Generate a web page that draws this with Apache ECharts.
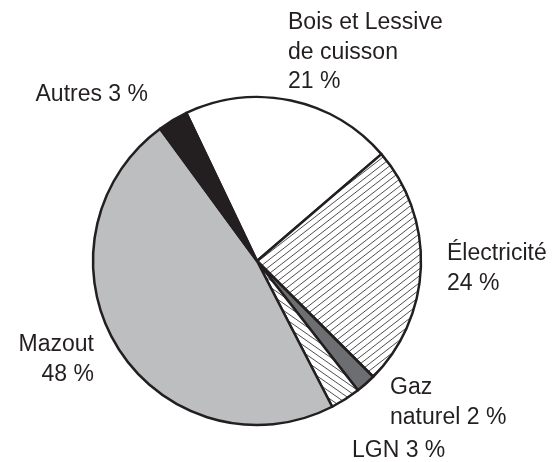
<!DOCTYPE html>
<html>
<head>
<meta charset="utf-8">
<script src="https://cdn.jsdelivr.net/npm/echarts@6/dist/echarts.min.js"></script>
<style>html,body{margin:0;padding:0;background:#fff;}#c{width:553px;height:462px;}</style>
</head>
<body>
<div id="c"></div>
<script>
var categories = ['Bois et Lessive de cuisson', 'Électricité', 'Gaz naturel', 'LGN', 'Mazout', 'Autres'];
var values = [21, 24, 2, 3, 48, 3];
var labelTexts = ['Bois et Lessive\nde cuisson\n21 %', 'Électricité\n24 %', 'Gaz\nnaturel 2 %', 'LGN 3 %', 'Mazout\n48 %', 'Autres 3 %'];

function hatch(w, h, dir) {
  var c = document.createElement('canvas');
  c.width = w; c.height = h;
  var g = c.getContext('2d');
  g.fillStyle = '#fff'; g.fillRect(0, 0, w, h);
  g.strokeStyle = '#3a3a3a'; g.lineWidth = 0.9;
  var offs = [[0,0],[w,0],[-w,0],[0,h],[0,-h]];
  offs.forEach(function (o) {
    g.beginPath();
    if (dir === '/') { g.moveTo(o[0], h + o[1]); g.lineTo(w + o[0], o[1]); }
    else { g.moveTo(o[0], o[1]); g.lineTo(w + o[0], h + o[1]); }
    g.stroke();
  });
  return { image: c, repeat: 'repeat' };
}

var fills = ['#ffffff', hatch(9, 7, '/'), '#6d6e71', hatch(10, 7, '\\'), '#bcbec0', '#231f20'];
var labelPos = [
  { x: 288, y: 8, align: 'left' },
  { x: 447, y: 239, align: 'left' },
  { x: 390, y: 373, align: 'left' },
  { x: 352, y: 436, align: 'left' },
  { x: 94, y: 330, align: 'right' },
  { x: 148, y: 80, align: 'right' }
];

var chart = echarts.init(document.getElementById('c'), null, { renderer: 'canvas' });
chart.setOption({
  animation: false,
  series: [{
    type: 'pie',
    center: [257, 261],
    radius: 164,
    startAngle: 115.5,
    clockwise: true,
    avoidLabelOverlap: false,
    data: categories.map(function (n, i) {
      return { name: n, value: values[i], itemStyle: { color: fills[i] } };
    }),
    itemStyle: { borderColor: '#231f20', borderWidth: 2.5 },
    emphasis: { disabled: true },
    label: {
      show: true,
      position: 'outside',
      formatter: function (p) { return labelTexts[p.dataIndex]; },
      fontFamily: 'Liberation Sans',
      fontSize: 23,
      lineHeight: 29.5,
      color: '#231f20'
    },
    labelLine: { show: false },
    labelLayout: function (p) {
      var l = labelPos[p.dataIndex];
      return { x: l.x, y: l.y, align: l.align, verticalAlign: 'top' };
    }
  }]
});
</script>
</body>
</html>
